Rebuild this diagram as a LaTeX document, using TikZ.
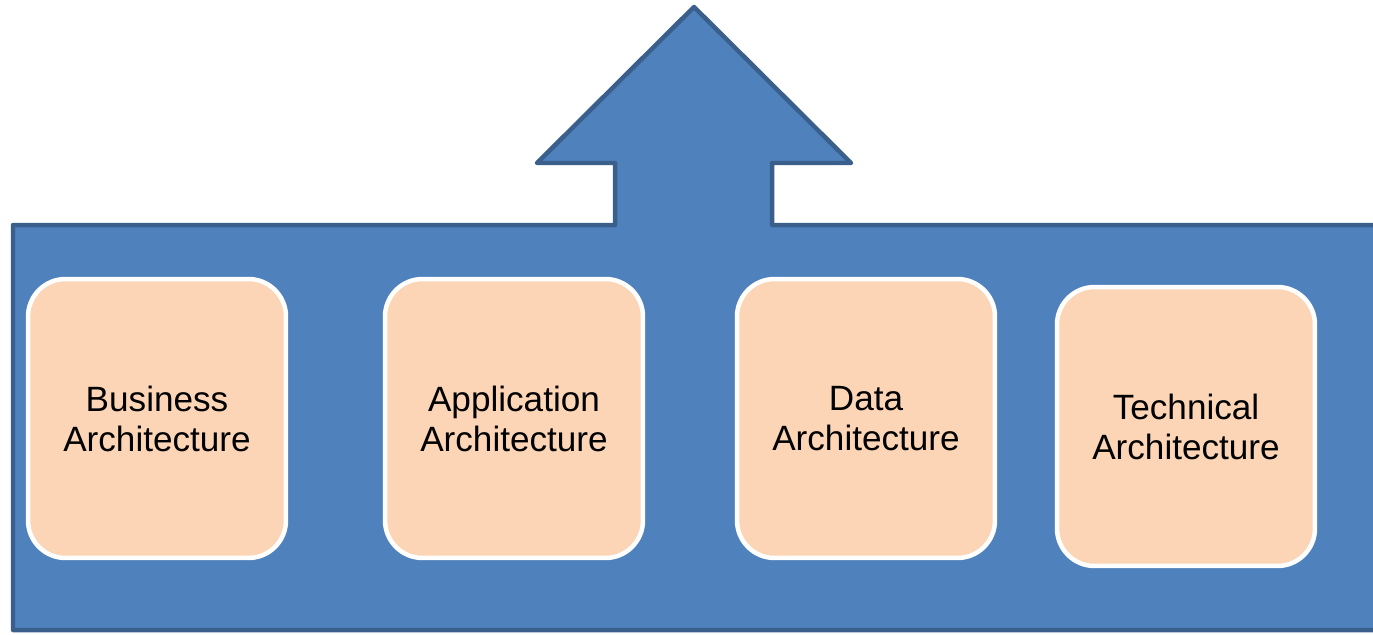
\documentclass[tikz,border=0pt]{standalone}
\usepackage{fontspec}
\setmainfont{Liberation Sans}
\usetikzlibrary{positioning}

\definecolor{archblue}{HTML}{4F81BD}
\definecolor{archedge}{HTML}{3A5F8B}
\definecolor{archpeach}{HTML}{FBD5B5}

\tikzset{
  layerbox/.style={draw=white,line width=0.09cm,fill=archpeach,rounded corners=0.75cm,
    minimum width=5.16cm,minimum height=5.58cm,align=center,
    font=\fontsize{20}{22.8}\selectfont,text=black}
}

\begin{document}
\begin{tikzpicture}[x=0.02cm,y=-0.02cm]
  \useasboundingbox (0,0) rectangle (1373,635);
  % base block with the arrow on top
  \draw[fill=archblue,draw=archedge,line width=0.09cm,line join=round]
    (13,225) -- (615,225) -- (615,163) -- (537,163) -- (694,7) -- (851,163)
    -- (772,163) -- (772,225) -- (1385,225) -- (1385,630) -- (13,630) -- cycle;
  % the four layers
  \node[layerbox] (business) at (157,418.5) {Business\\Architecture};
  \node[layerbox] (application) at (514,418.5) {Application\\Architecture};
  \node[layerbox] (data) at (866,418.5) {Data\\Architecture};
  \node[layerbox] (technical) at (1186,426.5) {Technical\\Architecture};
\end{tikzpicture}
\end{document}
